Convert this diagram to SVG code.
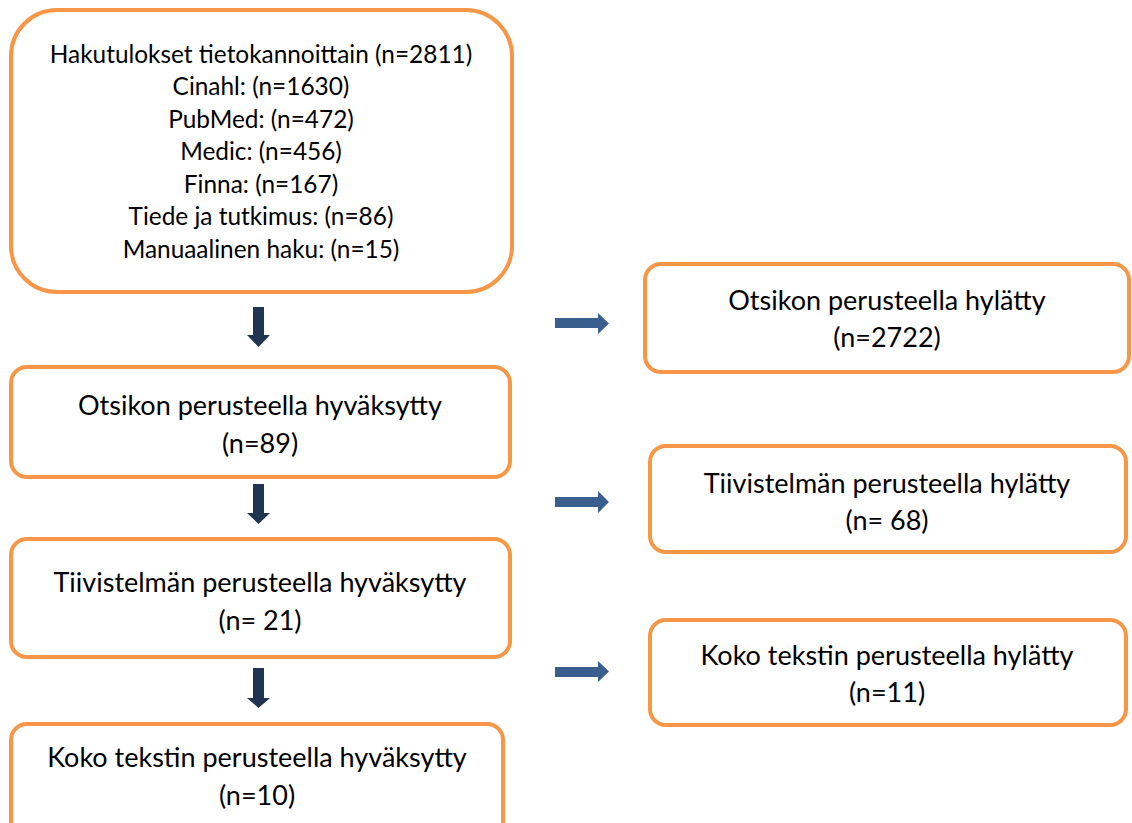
<svg xmlns="http://www.w3.org/2000/svg" width="1132" height="823" viewBox="0 0 1132 823">
<style>
.box{fill:#FFFFFF;stroke:#F79646;stroke-width:4}
.t{font-family:Lato,"Liberation Sans",sans-serif;font-size:27px;fill:#000000;text-anchor:middle}
.s{font-size:24.4px}
.down{fill:#1F3552}
.right{fill:#3A5F8F}
</style>
<rect width="1132" height="823" fill="#FFFFFF"/>
<g id="connectors">
<path class="down" d="M253,307 H264 V335 H270 L258.5,347 L247,335 H253 Z"/>
<path class="down" d="M253,484 H264 V513 H270 L258.5,524 L247,513 H253 Z"/>
<path class="down" d="M253,668 H264 V698 H270 L258.5,708 L247,698 H253 Z"/>
<path class="right" d="M555,318 H598 V313 L609,323.5 L598,334 V328 H555 Z"/>
<path class="right" d="M555,497 H598 V491 L609,502 L598,513 V507 H555 Z"/>
<path class="right" d="M555,667 H598 V661 L609,671.5 L598,682 V677 H555 Z"/>
</g>
<g id="search">
<rect class="box" x="11" y="10" width="501" height="282" rx="46" ry="46"/>
<text class="t s" x="261" y="63">Hakutulokset tietokannoittain (n=2811)</text>
<text class="t s" x="261" y="95">Cinahl: (n=1630)</text>
<text class="t s" x="261" y="128">PubMed: (n=472)</text>
<text class="t s" x="261" y="160">Medic: (n=456)</text>
<text class="t s" x="261" y="193">Finna: (n=167)</text>
<text class="t s" x="261" y="225">Tiede ja tutkimus: (n=86)</text>
<text class="t s" x="261" y="258">Manuaalinen haku: (n=15)</text>
</g>
<g id="title-accepted">
<rect class="box" x="11" y="367" width="499" height="110" rx="16" ry="16"/>
<text class="t" x="260" y="415">Otsikon perusteella hyväksytty</text>
<text class="t" x="260" y="453">(n=89)</text>
</g>
<g id="abstract-accepted">
<rect class="box" x="11" y="539" width="499" height="118" rx="16" ry="16"/>
<text class="t" x="260" y="592">Tiivistelmän perusteella hyväksytty</text>
<text class="t" x="260" y="630">(n= 21)</text>
</g>
<g id="fulltext-accepted">
<rect class="box" x="11" y="724" width="492" height="130" rx="16" ry="16"/>
<text class="t" x="257" y="767">Koko tekstin perusteella hyväksytty</text>
<text class="t" x="257" y="805">(n=10)</text>
</g>
<g id="title-rejected">
<rect class="box" x="645" y="264" width="484" height="108" rx="16" ry="16"/>
<text class="t" x="887" y="310">Otsikon perusteella hylätty</text>
<text class="t" x="887" y="347">(n=2722)</text>
</g>
<g id="abstract-rejected">
<rect class="box" x="650" y="446" width="476" height="106" rx="16" ry="16"/>
<text class="t" x="887" y="493">Tiivistelmän perusteella hylätty</text>
<text class="t" x="887" y="530">(n= 68)</text>
</g>
<g id="fulltext-rejected">
<rect class="box" x="650" y="620" width="476" height="105" rx="16" ry="16"/>
<text class="t" x="887" y="665">Koko tekstin perusteella hylätty</text>
<text class="t" x="887" y="702">(n=11)</text>
</g>
</svg>
